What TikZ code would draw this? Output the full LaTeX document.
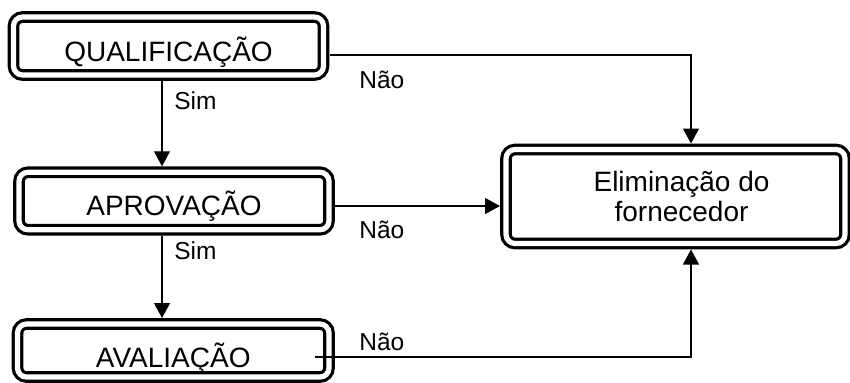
\documentclass[tikz,border=0pt]{standalone}
\usepackage{fontspec}
\setmainfont{Liberation Sans}
\usetikzlibrary{arrows.meta,calc}
\begin{document}
\begin{tikzpicture}[x=0.5pt,y=-0.5pt,
  dbox/.style={draw, double, line width=1.6pt, double distance=2.6pt,
    rounded corners=4.5pt, rectangle, inner sep=0pt, outer sep=3pt,
    font=\fontsize{14}{15}\selectfont, text depth=0pt},
  lbl/.style={inner sep=0pt, anchor=base west, font=\fontsize{12.25}{13}\selectfont},
  conn/.style={line width=0.6pt},
  arr/.style={conn, -{Triangle[length=7.5pt,width=8pt]}}]
\useasboundingbox (0,0) rectangle (850,382);
\node[dbox, minimum width=155pt, minimum height=29pt, text height=15pt] (qual) at (168.5,46) {QUALIFICAÇÃO};
\node[dbox, minimum width=155pt, minimum height=28.75pt, text height=14pt] (aprov) at (174,201) {APROVAÇÃO};
\node[dbox, minimum width=155.75pt, minimum height=26.5pt, text height=16.5pt] (aval) at (173.25,350.5) {AVALIAÇÃO};
\node[dbox, minimum width=169.5pt, minimum height=47pt, align=center] (elim) at (675.5,196.5) {\hspace*{6pt}Eliminação do\\\hspace*{6pt}fornecedor};
% connectors
\coordinate (q1) at ([yshift=-4.5pt]qual.east);
\coordinate (e1) at ([xshift=7.75pt]elim.north);
\draw[arr] (q1) -| (e1);
\coordinate (a2) at ([yshift=-2.5pt]aprov.east);
\draw[arr] (a2) -- (a2 -| elim.west);
\coordinate (v3) at (315,357);
\coordinate (e3) at ([xshift=7.75pt]elim.south);
\draw[arr] (v3) -| (e3);
\coordinate (s1) at ([xshift=-3.25pt]qual.south);
\draw[arr] (s1) -- (s1 |- aprov.north);
\coordinate (s2) at (s1 |- aprov.south);
\draw[arr] (s2) -- (s2 |- aval.north);
% labels
\node[lbl] (n1) at (359,88) {Não};
\node[lbl] (n2) at (359,238) {Não};
\node[lbl] (n3) at (359,350) {Não};
\node[lbl] (y1) at (174,109) {Sim};
\node[lbl] (y2) at (174,259) {Sim};
\end{tikzpicture}
\end{document}
